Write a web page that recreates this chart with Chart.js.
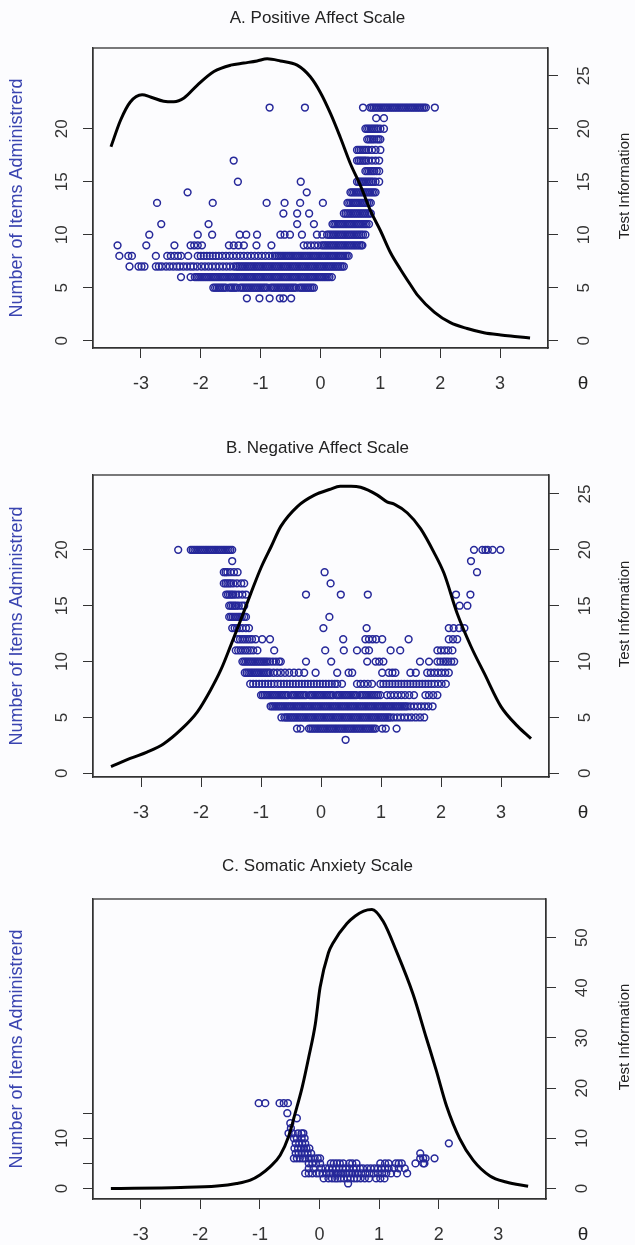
<!DOCTYPE html>
<html><head><meta charset="utf-8">
<script src="https://cdn.jsdelivr.net/npm/chart.js@4.4.1/dist/chart.umd.min.js"></script>
<style>
html,body{margin:0;padding:0;background:#fcfcfe;width:635px;height:1245px;overflow:hidden;}
canvas{position:absolute;left:0;display:block;}
</style></head><body>
<canvas id="cA" width="635" height="420" style="top:0px"></canvas>
<canvas id="cB" width="635" height="420" style="top:420px"></canvas>
<canvas id="cC" width="635" height="405" style="top:840px"></canvas>
<script>
// ---------- tick labels ----------
const thetaTicks = [-3,-2,-1,0,1,2,3];
const leftTicksA = [0,5,10,15,20], rightTicksA = [0,5,10,15,20,25];
const leftTicksB = [0,5,10,15,20], rightTicksB = [0,5,10,15,20,25];
const leftTicksC = [0,5,10,15], leftLabelsC = [0,10], rightTicksC = [0,10,20,30,40,50];

// ---------- A. Positive Affect Scale : theta of respondents, by number of items administered ----------
const a4 = [-1.23,-1.02,-0.85,-0.68,-0.62,-0.49];
const a5 = [-1.79,-1.76,-1.73,-1.70,-1.67,-1.64,-1.61,-1.58,-1.52,-1.49,-1.46,-1.43,-1.40,-1.34,-1.31,-1.28,-1.25,-1.22,-1.19,-1.16,-1.13,-1.10,-1.07,-1.04,-1.01,-0.98,-0.95,-0.92,-0.89,-0.83,-0.80,-0.77,-0.74,-0.71,-0.68,-0.65,-0.62,-0.59,-0.56,-0.53,-0.50,-0.47,-0.44,-0.41,-0.35,-0.32,-0.29,-0.26,-0.23,-0.20,-0.17,-0.14,-0.11];
const a6 = [-2.33,-2.17,-2.10,-2.07,-2.04,-2.01,-1.98,-1.95,-1.92,-1.89,-1.86,-1.83,-1.80,-1.77,-1.74,-1.71,-1.68,-1.65,-1.62,-1.59,-1.56,-1.53,-1.50,-1.47,-1.44,-1.41,-1.38,-1.35,-1.32,-1.29,-1.26,-1.23,-1.20,-1.17,-1.14,-1.11,-1.08,-1.05,-1.02,-0.99,-0.96,-0.93,-0.90,-0.87,-0.84,-0.81,-0.78,-0.75,-0.72,-0.69,-0.66,-0.63,-0.60,-0.57,-0.54,-0.51,-0.48,-0.45,-0.42,-0.39,-0.36,-0.33,-0.30,-0.27,-0.24,-0.21,-0.18,-0.15,-0.12,-0.09,-0.06,-0.03,0.00,0.03,0.06,0.09,0.12,0.15,0.19];
const a7 = [-3.19,-3.04,-2.99,-2.94,-2.75,-2.70,-2.65,-2.58,-2.52,-2.46,-2.40,-2.35,-2.29,-2.23,-2.17,-2.12,-2.06,-1.99,-1.93,-1.87,-1.81,-1.75,-1.69,-1.63,-1.57,-1.51,-1.45,-1.41,-1.38,-1.35,-1.32,-1.29,-1.26,-1.23,-1.20,-1.17,-1.14,-1.11,-1.08,-1.05,-1.02,-0.99,-0.96,-0.93,-0.90,-0.87,-0.84,-0.81,-0.78,-0.75,-0.72,-0.69,-0.66,-0.63,-0.60,-0.57,-0.54,-0.51,-0.48,-0.45,-0.42,-0.39,-0.36,-0.33,-0.30,-0.27,-0.24,-0.21,-0.18,-0.15,-0.12,-0.09,-0.06,-0.03,0.00,0.03,0.06,0.09,0.12,0.15,0.18,0.21,0.24,0.27,0.30,0.33,0.36,0.39];
const a8 = [-3.36,-3.21,-3.15,-2.75,-2.56,-2.50,-2.44,-2.38,-2.33,-2.21,-2.05,-2.00,-1.95,-1.90,-1.85,-1.80,-1.75,-1.70,-1.64,-1.58,-1.52,-1.46,-1.40,-1.34,-1.28,-1.22,-1.16,-1.10,-1.04,-0.98,-0.92,-0.86,-0.80,-0.76,-0.73,-0.70,-0.67,-0.64,-0.61,-0.58,-0.55,-0.52,-0.49,-0.46,-0.43,-0.40,-0.37,-0.34,-0.31,-0.28,-0.25,-0.22,-0.19,-0.16,-0.13,-0.10,-0.07,-0.04,-0.01,0.02,0.05,0.08,0.11,0.14,0.17,0.20,0.23,0.26,0.29,0.32,0.35,0.38,0.41,0.44,0.47];
const a9 = [-3.39,-2.91,-2.44,-2.17,-2.11,-2.05,-1.98,-1.53,-1.45,-1.37,-1.28,-1.07,-0.82,-0.28,-0.22,-0.16,-0.10,-0.04,0.02,0.05,0.08,0.11,0.14,0.17,0.20,0.23,0.26,0.29,0.32,0.35,0.38,0.41,0.44,0.47,0.50,0.53,0.56,0.59,0.62,0.65,0.68,0.70];
const a10 = [-2.86,-2.05,-1.81,-1.35,-1.24,-1.06,-0.67,-0.60,-0.51,-0.31,-0.06,0.03,0.11,0.14,0.17,0.20,0.23,0.26,0.29,0.32,0.35,0.38,0.41,0.44,0.47,0.50,0.53,0.56,0.59,0.62,0.65,0.68,0.71,0.75];
const a11 = [-2.66,-1.87,-0.39,-0.11,0.20,0.23,0.26,0.29,0.32,0.35,0.38,0.41,0.44,0.47,0.50,0.53,0.56,0.59,0.62,0.65,0.68,0.71,0.74,0.77,0.81];
const a12 = [-0.62,-0.39,-0.19,0.39,0.42,0.45,0.48,0.51,0.54,0.57,0.60,0.63,0.66,0.69,0.72,0.75,0.78,0.81,0.84];
const a13 = [-2.73,-1.80,-0.90,-0.60,-0.34,0.04,0.45,0.48,0.51,0.54,0.57,0.60,0.63,0.66,0.69,0.72,0.75,0.78,0.81,0.84];
const a14 = [-2.22,-0.23,0.50,0.53,0.56,0.59,0.62,0.65,0.68,0.71,0.74,0.77,0.80,0.83,0.86,0.89,0.92];
const a15 = [-1.38,-0.33,0.61,0.64,0.67,0.70,0.73,0.76,0.79,0.82,0.85,0.88,0.92,0.98];
const a16 = [0.75,0.78,0.81,0.84,0.87,0.90,0.94,0.98];
const a17 = [-1.45,0.61,0.64,0.67,0.70,0.73,0.76,0.80,0.86,0.92,0.98];
const a18 = [0.61,0.64,0.67,0.70,0.73,0.76,0.80,0.86,0.92,1.00];
const a19 = [0.78,0.81,0.84,0.87,0.90,0.94,0.97,1.00];
const a20 = [0.75,0.78,0.81,0.84,0.87,0.90,0.93,0.96,1.00,1.06];
const a21 = [0.93,1.06];
const a22 = [-0.85,-0.26,0.71,0.83,0.86,0.89,0.92,0.95,0.98,1.01,1.04,1.07,1.10,1.13,1.16,1.19,1.22,1.25,1.28,1.31,1.34,1.37,1.40,1.43,1.46,1.49,1.52,1.55,1.58,1.61,1.64,1.67,1.70,1.73,1.76,1.91];
const rowsA = [[4,a4],[5,a5],[6,a6],[7,a7],[8,a8],[9,a9],[10,a10],[11,a11],[12,a12],[13,a13],[14,a14],[15,a15],[16,a16],[17,a17],[18,a18],[19,a19],[20,a20],[21,a21],[22,a22]];
const infoThetaA = [-3.5,-3.34,-3.18,-2.98,-2.84,-2.62,-2.45,-2.28,-2.06,-1.78,-1.5,-1.28,-1.06,-0.89,-0.67,-0.39,-0.17,0,0.17,0.33,0.5,0.67,0.84,1.0,1.17,1.34,1.5,1.62,1.9,2.17,2.45,2.73,3.01,3.29,3.5];
const infoA = [18.3,20.8,22.5,23.2,23.0,22.6,22.55,22.9,24.1,25.4,26.0,26.2,26.4,26.6,26.4,26.0,24.9,23.4,21.4,19.2,16.7,14.6,12.2,10.4,8.3,6.7,5.3,4.3,2.7,1.7,1.15,0.75,0.54,0.38,0.25];

// ---------- B. Negative Affect Scale ----------
const b3 = [0.41];
const b4 = [-0.40,-0.34,-0.20,-0.17,-0.14,-0.11,-0.08,-0.05,-0.02,0.01,0.04,0.07,0.10,0.13,0.16,0.19,0.22,0.25,0.28,0.31,0.34,0.37,0.40,0.43,0.46,0.49,0.52,0.55,0.58,0.61,0.64,0.67,0.70,0.73,0.76,0.79,0.82,0.85,0.88,0.91,1.02,1.08,1.26];
const b5 = [-0.66,-0.61,-0.58,-0.55,-0.52,-0.49,-0.46,-0.43,-0.40,-0.37,-0.34,-0.31,-0.28,-0.25,-0.22,-0.19,-0.16,-0.13,-0.10,-0.07,-0.04,-0.01,0.02,0.05,0.08,0.11,0.14,0.17,0.20,0.23,0.26,0.29,0.32,0.35,0.38,0.41,0.44,0.47,0.50,0.53,0.56,0.59,0.62,0.65,0.68,0.71,0.74,0.77,0.80,0.83,0.86,0.89,0.92,0.95,0.98,1.01,1.04,1.07,1.10,1.13,1.16,1.21,1.27,1.33,1.39,1.45,1.51,1.58,1.65,1.72];
const b6 = [-0.84,-0.81,-0.78,-0.75,-0.72,-0.69,-0.66,-0.63,-0.60,-0.57,-0.54,-0.51,-0.48,-0.45,-0.42,-0.39,-0.36,-0.33,-0.30,-0.27,-0.24,-0.21,-0.18,-0.15,-0.12,-0.09,-0.06,-0.03,0.00,0.03,0.06,0.09,0.12,0.15,0.18,0.21,0.24,0.27,0.30,0.33,0.36,0.39,0.42,0.45,0.48,0.51,0.54,0.57,0.60,0.63,0.66,0.69,0.72,0.75,0.78,0.81,0.84,0.87,0.90,0.93,0.96,0.99,1.02,1.05,1.08,1.11,1.14,1.17,1.20,1.23,1.26,1.29,1.32,1.35,1.38,1.41,1.44,1.49,1.55,1.61,1.67,1.73,1.79,1.86];
const b7 = [-1.00,-0.97,-0.94,-0.91,-0.88,-0.85,-0.82,-0.79,-0.76,-0.73,-0.70,-0.67,-0.64,-0.61,-0.58,-0.55,-0.49,-0.46,-0.43,-0.40,-0.37,-0.34,-0.31,-0.28,-0.25,-0.19,-0.16,-0.13,-0.10,-0.07,-0.04,-0.01,0.02,0.05,0.08,0.11,0.14,0.17,0.20,0.26,0.29,0.32,0.35,0.38,0.41,0.44,0.47,0.50,0.53,0.56,0.59,0.65,0.68,0.71,0.74,0.77,0.80,0.83,0.86,0.89,0.92,0.95,0.99,1.10,1.16,1.22,1.28,1.34,1.40,1.47,1.55,1.74,1.80,1.87,1.94];
const b8 = [-1.18,-1.13,-1.08,-1.03,-0.98,-0.93,-0.88,-0.83,-0.78,-0.72,-0.67,-0.62,-0.57,-0.52,-0.47,-0.42,-0.37,-0.32,-0.27,-0.22,-0.17,-0.12,-0.07,-0.02,0.03,0.08,0.13,0.18,0.23,0.27,0.35,0.60,0.66,0.72,0.78,0.85,0.99,1.04,1.09,1.14,1.19,1.24,1.29,1.34,1.39,1.44,1.49,1.54,1.59,1.64,1.69,1.74,1.79,1.84,1.89,1.95,2.01,2.08];
const b9 = [-1.27,-1.24,-1.21,-1.18,-1.15,-1.12,-1.09,-1.06,-1.03,-1.00,-0.97,-0.94,-0.91,-0.88,-0.85,-0.79,-0.73,-0.67,-0.60,-0.53,-0.45,-0.37,-0.28,-0.09,0.27,0.46,0.52,1.02,1.13,1.19,1.24,1.49,1.58,1.77,1.83,1.89,1.95,2.01,2.07,2.13];
const b10 = [-1.31,-1.28,-1.25,-1.22,-1.19,-1.16,-1.13,-1.10,-1.07,-1.04,-1.01,-0.98,-0.95,-0.92,-0.89,-0.85,-0.80,-0.75,-0.70,-0.67,-0.25,0.17,0.77,0.91,0.97,1.04,1.65,1.80,1.94,1.99,2.04,2.08,2.12,2.17,2.22];
const b11 = [-1.42,-1.38,-1.34,-1.30,-1.26,-1.22,-1.18,-1.13,-1.06,-0.78,0.07,0.38,0.60,0.74,0.80,1.16,1.32,1.94,2.00,2.06,2.12,2.19];
const b12 = [-1.39,-1.35,-1.31,-1.27,-1.23,-1.19,-1.15,-1.09,-0.98,-0.85,0.37,0.74,0.80,0.86,0.92,1.02,1.46,2.13,2.20,2.27];
const b13 = [-1.48,-1.44,-1.40,-1.36,-1.31,-1.25,-1.20,0.04,0.76,2.13,2.21,2.30,2.39];
const b14 = [-1.53,-1.50,-1.47,-1.44,-1.41,-1.38,-1.35,-1.32,-1.28,-1.25,0.14];
const b15 = [-1.53,-1.50,-1.47,-1.44,-1.41,-1.37,-1.32,-1.28,2.31,2.44];
const b16 = [-1.58,-1.55,-1.52,-1.49,-1.46,-1.42,-1.37,-1.31,-1.25,-0.25,0.33,0.78,2.25,2.49];
const b17 = [-1.62,-1.59,-1.56,-1.53,-1.50,-1.46,-1.40,-1.33,-1.28,0.16];
const b18 = [-1.62,-1.59,-1.56,-1.51,-1.45,-1.39,0.06,2.60];
const b19 = [-1.48,2.50];
const b20 = [-2.38,-2.17,-2.14,-2.11,-2.08,-2.05,-2.02,-1.99,-1.96,-1.93,-1.90,-1.87,-1.84,-1.81,-1.78,-1.75,-1.72,-1.69,-1.66,-1.63,-1.60,-1.57,-1.54,-1.51,-1.48,2.55,2.69,2.74,2.78,2.86,2.99];
const rowsB = [[3,b3],[4,b4],[5,b5],[6,b6],[7,b7],[8,b8],[9,b9],[10,b10],[11,b11],[12,b12],[13,b13],[14,b14],[15,b15],[16,b16],[17,b17],[18,b18],[19,b19],[20,b20]];
const infoThetaB = [-3.5,-3.18,-2.9,-2.62,-2.34,-2.06,-1.84,-1.67,-1.5,-1.34,-1.17,-1.0,-0.83,-0.67,-0.39,-0.11,0.14,0.32,0.5,0.66,0.94,1.1,1.22,1.44,1.66,1.88,2.05,2.27,2.5,2.72,3.0,3.28,3.5];
const infoB = [0.6,1.33,1.9,2.65,3.88,5.5,7.46,9.25,11.5,13.7,16.1,18.4,20.3,22.1,23.9,24.9,25.4,25.7,25.7,25.6,24.9,24.3,24.1,23.3,21.9,19.8,17.9,14.3,11.35,8.96,5.97,4.2,3.1];

// ---------- C. Somatic Anxiety Scale ----------
const c1 = [0.48];
const c2 = [0.07,0.15,0.21,0.26,0.30,0.35,0.41,0.47,0.52,0.58,0.63,0.69,0.76,0.83,0.95,1.02,1.09];
const c3 = [-0.24,-0.18,-0.12,-0.05,0.00,0.05,0.12,0.18,0.22,0.27,0.31,0.36,0.40,0.45,0.50,0.55,0.60,0.64,0.70,0.77,0.84,0.91,0.98,1.05,1.12,1.20,1.30,1.47];
const c4 = [-0.18,-0.10,0.03,0.10,0.16,0.22,0.28,0.33,0.39,0.44,0.50,0.57,0.62,0.68,0.73,0.80,0.86,0.92,0.98,1.04,1.10,1.16,1.25,1.33,1.43];
const c5 = [-0.18,-0.12,-0.06,0.01,0.19,0.24,0.29,0.34,0.40,0.50,0.55,0.62,1.02,1.10,1.16,1.28,1.33,1.38,1.61,1.74,1.76];
const c6 = [-0.43,-0.38,-0.33,-0.28,-0.24,-0.18,-0.14,-0.08,-0.03,0.01,1.69,1.74,1.78,1.93];
const c7 = [-0.40,-0.35,-0.30,-0.25,-0.20,-0.14,1.69];
const c8 = [-0.42,-0.36,-0.31,-0.26,-0.22,-0.17];
const c9 = [-0.40,-0.34,-0.29,-0.24,2.17];
const c10 = [-0.43,-0.38,-0.30,-0.25];
const c11 = [-0.52,-0.45,-0.36,-0.30,-0.27];
const c12 = [-0.48];
const c13 = [-0.49];
const c14 = [-0.38];
const c15 = [-0.54];
const c17 = [-1.02,-0.91,-0.67,-0.60,-0.53];
const rowsC = [[1,c1],[2,c2],[3,c3],[4,c4],[5,c5],[6,c6],[7,c7],[8,c8],[9,c9],[10,c10],[11,c11],[12,c12],[13,c13],[14,c14],[15,c15],[17,c17]];
const infoThetaC = [-3.5,-2.33,-1.72,-1.39,-1.16,-1.0,-0.83,-0.66,-0.52,-0.41,-0.29,-0.18,-0.07,0.01,0.15,0.23,0.46,0.6,0.74,0.88,1.07,1.29,1.57,1.79,1.96,2.13,2.35,2.58,2.86,3.13,3.5];
const infoC = [0.0,0.2,0.5,1.0,1.67,2.7,4.3,6.6,10.3,14.9,20.2,26.2,32.8,40.1,47.0,49.0,52.8,54.3,55.3,55.6,53.2,47.3,38.7,30.1,23.5,16.5,10.0,5.6,2.5,1.3,0.45];

// ---------- drawing ----------
const FONT = "'Liberation Sans', Arial, sans-serif";
const AX = '#333333';
const PT = '#26289a';
const YT = '#3a44b0';

function toPoints(rows){ const out=[]; rows.forEach(([n,xs])=>xs.forEach(x=>out.push({x:x,y:n}))); return out; }
function toCurve(xs,ys){ return xs.map((x,i)=>({x:x,y:ys[i]})); }

const framePlugin = {
  id:'frame',
  afterDraw(chart){
    const {ctx, chartArea:a} = chart;
    ctx.save();
    ctx.strokeStyle = AX; ctx.lineWidth = 1.3;
    ctx.strokeRect(a.left, a.top, a.right-a.left, a.bottom-a.top);
    ctx.fillStyle = '#222';
    ctx.font = "19px " + FONT;
    ctx.textAlign = 'center'; ctx.textBaseline = 'middle';
    ctx.fillText('\u03b8', 583, a.bottom + 36);
    ctx.font = "15px " + FONT;
    ctx.translate(625, (a.top + a.bottom)/2 - 12);
    ctx.rotate(-Math.PI/2);
    ctx.fillText('Test Information', 0, 0);
    ctx.restore();
  }
};

function makeChart(id, o){
  const tickFont = {family:FONT, size:17};
  const gridOpt = {drawOnChartArea:false, drawTicks:true, tickLength:10, color:AX, lineWidth:1};
  new Chart(document.getElementById(id), {
    type:'scatter',
    data:{datasets:[
      {label:'Test Information', data:toCurve(o.th,o.info), yAxisID:'y2', showLine:true, pointRadius:0,
       borderColor:'#000', borderWidth:3, cubicInterpolationMode:'monotone', fill:false, order:0},
      {label:'Number of Items Administrerd', data:toPoints(o.rows), yAxisID:'y', showLine:false,
       pointStyle:'circle', pointRadius:3.4, borderColor:PT, backgroundColor:'rgba(0,0,0,0)', borderWidth:1.5, order:1}
    ]},
    options:{
      responsive:false, animation:false, devicePixelRatio:1,
      layout:{padding:0},
      plugins:{
        legend:{display:false}, tooltip:{enabled:false},
        title:{display:true, text:o.title, color:'#222', font:{family:FONT, size:17, weight:'normal'},
               padding:{top:o.tp, bottom:o.tb}}
      },
      scales:{
        x:{type:'linear', position:'bottom', min:-3.8, max:3.8,
           afterBuildTicks:s=>{s.ticks = thetaTicks.map(v=>({value:v}));},
           ticks:{font:{family:FONT,size:18}, color:AX, padding:15, autoSkip:false, maxRotation:0, callback:v=>String(v)},
           grid:gridOpt, border:{display:true, color:AX, width:1.3},
           afterFit:s=>{s.height = o.xh;}},
        y:{type:'linear', position:'left', min:o.ymin, max:o.ymax,
           afterBuildTicks:s=>{s.ticks = o.lt.map(v=>({value:v}));},
           ticks:{font:tickFont, color:AX, padding:11, minRotation:90, maxRotation:90, crossAlign:'center', autoSkip:false,
                  callback:v=> (o.ll ? (o.ll.includes(v)? String(v):'') : String(v))},
           grid:gridOpt, border:{display:true, color:AX, width:1.3},
           title:{display:true, text:'Number of Items Administrerd', color:YT, font:{family:FONT, size:18}, padding:{top:6,bottom:0}},
           afterFit:s=>{s.width = 93;}},
        y2:{type:'linear', position:'right', min:o.ymin, max:o.ymax,
           afterBuildTicks:s=>{s.ticks = o.rt.map(v=>({value:v}));},
           ticks:{font:tickFont, color:AX, padding:17, minRotation:90, maxRotation:90, crossAlign:'center', autoSkip:false,
                  callback:v=>String(v)},
           grid:gridOpt, border:{display:true, color:AX, width:1.3},
           afterFit:s=>{s.width = o.rw;}}
      }
    },
    plugins:[framePlugin]
  });
}

makeChart('cA', {title:'A. Positive Affect Scale', rows:rowsA, th:infoThetaA, info:infoA,
  ymin:-0.69, ymax:27.62, lt:leftTicksA, rt:rightTicksA, tp:7.8, tb:19.8, xh:72, rw:87});
makeChart('cB', {title:'B. Negative Affect Scale', rows:rowsB, th:infoThetaB, info:infoB,
  ymin:-0.33, ymax:26.7, lt:leftTicksB, rt:rightTicksB, tp:17.8, tb:16.8, xh:63, rw:86});
makeChart('cC', {title:'C. Somatic Anxiety Scale', rows:rowsC, th:infoThetaC, info:infoC,
  ymin:-2.1, ymax:57.7, lt:leftTicksC, ll:leftLabelsC, rt:rightTicksC, tp:15.8, tb:22.8, xh:46, rw:89});
</script>
</body></html>
